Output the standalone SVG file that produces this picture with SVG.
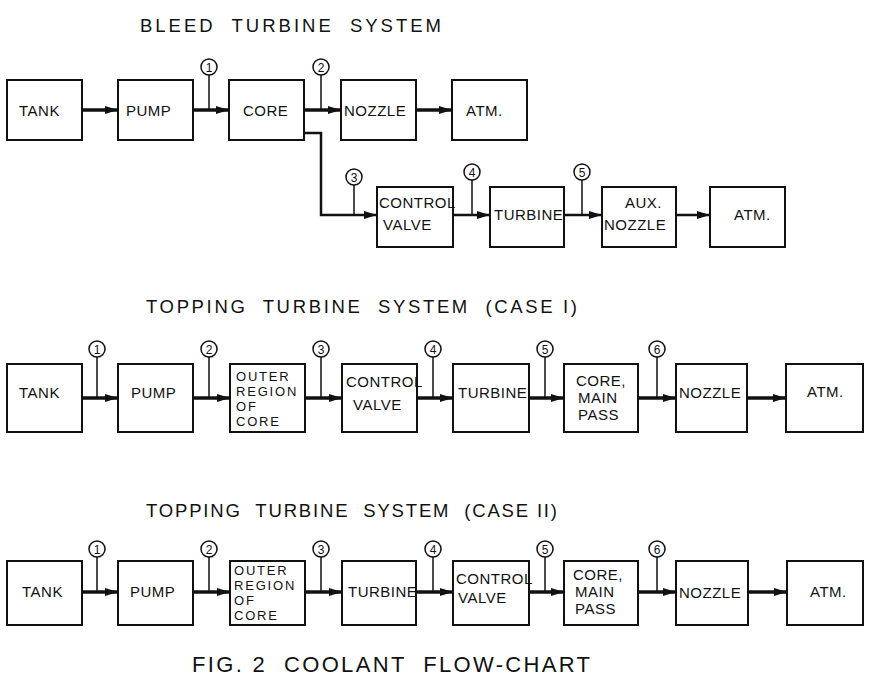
<svg xmlns="http://www.w3.org/2000/svg" width="885" height="676" viewBox="0 0 885 676">
<style>
.box{fill:#fff;stroke:#111;stroke-width:2}
.t{font-family:"Liberation Sans",Arial,sans-serif;font-size:15px;fill:#111;letter-spacing:0.5px}
.s{font-size:13px;letter-spacing:1.8px}
.title{font-family:"Liberation Sans",Arial,sans-serif;font-size:18.5px;fill:#111}
.flow{stroke:#111;stroke-width:3.5;fill:none}
.flow2{stroke:#111;stroke-width:2.5;fill:none}
.tap{stroke:#111;stroke-width:1.5;fill:none}
.c{fill:#fff;stroke:#111;stroke-width:1.5}
.n{font-family:"Liberation Sans",Arial,sans-serif;font-size:12px;fill:#111;text-anchor:middle}
</style>
<defs>
<marker id="ah" markerUnits="userSpaceOnUse" markerWidth="14" markerHeight="10" refX="13" refY="5" orient="auto">
<path d="M0,1 L13,5 L0,9 Z" fill="#111"/>
</marker>
</defs>

<text class="title" x="140" y="32" textLength="301" lengthAdjust="spacing" xml:space="preserve">BLEED  TURBINE  SYSTEM</text>
<text class="title" x="146" y="313" textLength="431" lengthAdjust="spacing" xml:space="preserve">TOPPING  TURBINE  SYSTEM  (CASE I)</text>
<text class="title" x="146" y="517" textLength="411" lengthAdjust="spacing" xml:space="preserve">TOPPING  TURBINE  SYSTEM  (CASE II)</text>
<text class="title" x="192" y="672" style="font-size:22px" textLength="398" lengthAdjust="spacing" xml:space="preserve">FIG. 2  COOLANT  FLOW-CHART</text>

<g id="connectors">
<path class="flow" d="M82,110 H118" marker-end="url(#ah)"/>
<path class="flow" d="M193,110 H229" marker-end="url(#ah)"/>
<path class="flow" d="M304,110 H341" marker-end="url(#ah)"/>
<path class="flow" d="M416,110 H452" marker-end="url(#ah)"/>
<path class="flow2" d="M304,133 H321 V215 H377" marker-end="url(#ah)"/>
<path class="flow2" d="M453,215 H490" marker-end="url(#ah)"/>
<path class="flow2" d="M564,215 H602" marker-end="url(#ah)"/>
<path class="flow2" d="M676,215 H710" marker-end="url(#ah)"/>
<path class="flow" d="M82,398 H118" marker-end="url(#ah)"/>
<path class="flow" d="M193,398 H230" marker-end="url(#ah)"/>
<path class="flow" d="M305,398 H342" marker-end="url(#ah)"/>
<path class="flow" d="M417,398 H453" marker-end="url(#ah)"/>
<path class="flow" d="M529,398 H564" marker-end="url(#ah)"/>
<path class="flow" d="M638,398 H676" marker-end="url(#ah)"/>
<path class="flow" d="M747,398 H786" marker-end="url(#ah)"/>
<path class="flow" d="M82,592 H118" marker-end="url(#ah)"/>
<path class="flow" d="M193,592 H230" marker-end="url(#ah)"/>
<path class="flow" d="M305,592 H342" marker-end="url(#ah)"/>
<path class="flow" d="M416,592 H453" marker-end="url(#ah)"/>
<path class="flow" d="M529,592 H564" marker-end="url(#ah)"/>
<path class="flow" d="M638,592 H676" marker-end="url(#ah)"/>
<path class="flow" d="M748,592 H787" marker-end="url(#ah)"/>
</g>

<g id="stations">
<g id="b1"><path class="tap" d="M209,75 V110"/><circle class="c" cx="209" cy="67" r="8"/><text class="n" x="209" y="71.5">1</text></g>
<g id="b2"><path class="tap" d="M321,75 V110"/><circle class="c" cx="321" cy="67" r="8"/><text class="n" x="321" y="71.5">2</text></g>
<g id="b3"><path class="tap" d="M354,185 V215"/><circle class="c" cx="354" cy="177" r="8"/><text class="n" x="354" y="181.5">3</text></g>
<g id="b4"><path class="tap" d="M472,180 V215"/><circle class="c" cx="472" cy="172" r="8"/><text class="n" x="472" y="176.5">4</text></g>
<g id="b5"><path class="tap" d="M582,180 V215"/><circle class="c" cx="582" cy="172" r="8"/><text class="n" x="582" y="176.5">5</text></g>

<g id="c1"><path class="tap" d="M97,357 V398"/><circle class="c" cx="97" cy="349" r="8"/><text class="n" x="97" y="353.5">1</text></g>
<g id="c2"><path class="tap" d="M209,357 V398"/><circle class="c" cx="209" cy="349" r="8"/><text class="n" x="209" y="353.5">2</text></g>
<g id="c3"><path class="tap" d="M321,357 V398"/><circle class="c" cx="321" cy="349" r="8"/><text class="n" x="321" y="353.5">3</text></g>
<g id="c4"><path class="tap" d="M433,357 V398"/><circle class="c" cx="433" cy="349" r="8"/><text class="n" x="433" y="353.5">4</text></g>
<g id="c5"><path class="tap" d="M545,357 V398"/><circle class="c" cx="545" cy="349" r="8"/><text class="n" x="545" y="353.5">5</text></g>
<g id="c6"><path class="tap" d="M657,357 V398"/><circle class="c" cx="657" cy="349" r="8"/><text class="n" x="657" y="353.5">6</text></g>

<g id="d1"><path class="tap" d="M97,557 V592"/><circle class="c" cx="97" cy="549" r="8"/><text class="n" x="97" y="553.5">1</text></g>
<g id="d2"><path class="tap" d="M209,557 V592"/><circle class="c" cx="209" cy="549" r="8"/><text class="n" x="209" y="553.5">2</text></g>
<g id="d3"><path class="tap" d="M321,557 V592"/><circle class="c" cx="321" cy="549" r="8"/><text class="n" x="321" y="553.5">3</text></g>
<g id="d4"><path class="tap" d="M433,557 V592"/><circle class="c" cx="433" cy="549" r="8"/><text class="n" x="433" y="553.5">4</text></g>
<g id="d5"><path class="tap" d="M545,557 V592"/><circle class="c" cx="545" cy="549" r="8"/><text class="n" x="545" y="553.5">5</text></g>
<g id="d6"><path class="tap" d="M657,557 V592"/><circle class="c" cx="657" cy="549" r="8"/><text class="n" x="657" y="553.5">6</text></g>
</g>

<g id="r1-tank"><rect class="box" x="7" y="80" width="75" height="60"/><text class="t" x="19" y="116">TANK</text></g>
<g id="r1-pump"><rect class="box" x="118" y="80" width="75" height="60"/><text class="t" x="126" y="116">PUMP</text></g>
<g id="r1-core"><rect class="box" x="229" y="80" width="75" height="60"/><text class="t" x="243" y="116">CORE</text></g>
<g id="r1-nozzle"><rect class="box" x="341" y="80" width="75" height="60"/><text class="t" x="344" y="116" letter-spacing="1.5">NOZZLE</text></g>
<g id="r1-atm"><rect class="box" x="452" y="80" width="75" height="60"/><text class="t" x="466" y="116">ATM.</text></g>
<g id="r1-valve"><rect class="box" x="377" y="187" width="76" height="60"/><text class="t" x="379" y="208" letter-spacing="0">CONTROL</text><text class="t" x="383" y="230" letter-spacing="1.5">VALVE</text></g>
<g id="r1-turbine"><rect class="box" x="490" y="187" width="74" height="60"/><text class="t" x="494" y="220" letter-spacing="0">TURBINE</text></g>
<g id="r1-aux"><rect class="box" x="602" y="187" width="74" height="60"/><text class="t" x="625" y="208">AUX.</text><text class="t" x="604" y="230" letter-spacing="1">NOZZLE</text></g>
<g id="r1-atm2"><rect class="box" x="710" y="187" width="75" height="60"/><text class="t" x="734" y="220">ATM.</text></g>

<g id="c1-tank"><rect class="box" x="7" y="364" width="75" height="68"/><text class="t" x="19" y="398" letter-spacing="1.5">TANK</text></g>
<g id="c1-pump"><rect class="box" x="118" y="364" width="75" height="68"/><text class="t" x="131" y="398" letter-spacing="1">PUMP</text></g>
<g id="c1-outer"><rect class="box" x="230" y="364" width="75" height="68"/><text class="t s" x="236" y="381" letter-spacing="2.5">OUTER</text><text class="t s" x="236" y="396">REGION</text><text class="t s" x="236" y="411">OF</text><text class="t s" x="236" y="426">CORE</text></g>
<g id="c1-valve"><rect class="box" x="342" y="364" width="75" height="68"/><text class="t" x="346" y="387" letter-spacing="0">CONTROL</text><text class="t" x="353" y="410" letter-spacing="1.5">VALVE</text></g>
<g id="c1-turbine"><rect class="box" x="453" y="364" width="76" height="68"/><text class="t" x="458" y="398" letter-spacing="0">TURBINE</text></g>
<g id="c1-core"><rect class="box" x="564" y="364" width="74" height="68"/><text class="t" x="576" y="386" letter-spacing="1.5">CORE,</text><text class="t" x="578" y="403" letter-spacing="1.5">MAIN</text><text class="t" x="578" y="420" letter-spacing="1.5">PASS</text></g>
<g id="c1-nozzle"><rect class="box" x="676" y="364" width="71" height="68"/><text class="t" x="679" y="398" letter-spacing="0.5">NOZZLE</text></g>
<g id="c1-atm"><rect class="box" x="786" y="364" width="77" height="68"/><text class="t" x="807" y="397">ATM.</text></g>

<g id="c2-tank"><rect class="box" x="7" y="561" width="75" height="64"/><text class="t" x="22" y="597" letter-spacing="1">TANK</text></g>
<g id="c2-pump"><rect class="box" x="118" y="561" width="75" height="64"/><text class="t" x="130" y="597" letter-spacing="1">PUMP</text></g>
<g id="c2-outer"><rect class="box" x="230" y="561" width="75" height="64"/><text class="t s" x="234" y="575" letter-spacing="2.5">OUTER</text><text class="t s" x="234" y="590">REGION</text><text class="t s" x="234" y="605">OF</text><text class="t s" x="234" y="620">CORE</text></g>
<g id="c2-turbine"><rect class="box" x="342" y="561" width="74" height="64"/><text class="t" x="348" y="597" letter-spacing="0">TURBINE</text></g>
<g id="c2-valve"><rect class="box" x="453" y="561" width="76" height="64"/><text class="t" x="456" y="584" letter-spacing="0">CONTROL</text><text class="t" x="458" y="603" letter-spacing="0.5">VALVE</text></g>
<g id="c2-core"><rect class="box" x="564" y="561" width="74" height="64"/><text class="t" x="573" y="580" letter-spacing="1.5">CORE,</text><text class="t" x="575" y="597" letter-spacing="2">MAIN</text><text class="t" x="575" y="614" letter-spacing="1.5">PASS</text></g>
<g id="c2-nozzle"><rect class="box" x="676" y="561" width="72" height="64"/><text class="t" x="679" y="598" letter-spacing="0.5">NOZZLE</text></g>
<g id="c2-atm"><rect class="box" x="787" y="561" width="76" height="64"/><text class="t" x="810" y="597">ATM.</text></g>
</svg>
